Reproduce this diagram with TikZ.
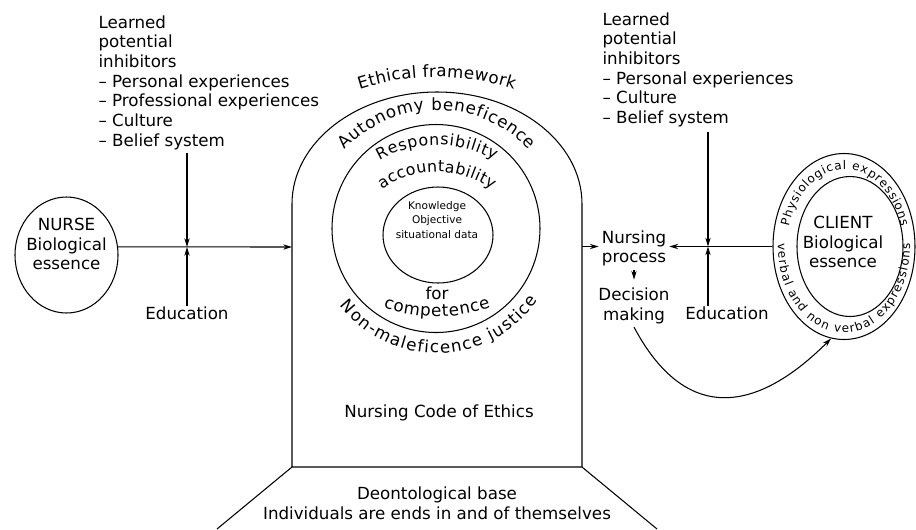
\documentclass[tikz,border=0pt]{standalone}
\usepackage{fontspec}
\setmainfont{DejaVu Sans}
\usetikzlibrary{shapes.geometric,decorations.text,arrows.meta}
\newcommand\lblfont{\fontsize{9.5}{11.2}\selectfont}
\newcommand\respfont{\fontsize{9}{11}\selectfont}
\newcommand\ovalfont{\fontsize{6.8}{8}\selectfont}
\newcommand\corefont{\fontsize{6}{8.5}\selectfont}

\begin{document}
\begin{tikzpicture}[line width=0.6pt, >={Stealth[length=5pt,width=3pt]},
  txt/.style={font=\lblfont, inner sep=0pt},
  lst/.style={txt, align=left, anchor=north west},
  oval/.style={draw, ellipse, inner sep=0pt},
  curved/.style={decorate, decoration={text along path, text align={fit to path}, text={#1}}}]
  \useasboundingbox (0,0) rectangle (18.32,-10.58);

  \node[oval, minimum width=2.06cm, minimum height=2.32cm] (nurse) at (1.33,-5.10) {};
  \node[txt, align=center] (nursetxt) at (1.33,-4.88) {NURSE\\Biological\\essence};
  \node[lst] (inhibL) at (1.96,-0.30) {Learned\\potential\\inhibitors\\-- Personal experiences\\-- Professional experiences\\-- Culture\\-- Belief system};
  \node[txt, anchor=north] (eduL) at (3.74,-6.12) {Education};
  \coordinate (topL) at (3.74,-3.06);
  \coordinate (crossL) at (3.74,-4.94);
  \coordinate (archW) at (5.84,-4.94);
  \draw[->] (nurse.9) -- (archW);
  \draw[->] (topL) -- (crossL);
  \draw[->] (eduL.north) -- (crossL);

  \draw (5.84,-9.34) coordinate (baseL) -- (5.84,-4.08) arc[start angle=180, end angle=0, x radius=2.9, y radius=2.24] -- (11.64,-9.34) coordinate (baseR) -- cycle;
  \draw (baseL) -- (4.34,-10.58);
  \draw (baseR) -- (13.14,-10.58);
  \node[draw, circle, inner sep=0pt, minimum size=4.16cm] (mid) at (8.72,-4.57) {};
  \node[oval, minimum width=2.2cm, minimum height=1.92cm] (core) at (8.76,-4.70) {};
  \node[txt, align=center, font=\corefont] (coretxt) at (8.74,-4.40) {Knowledge\\Objective\\situational data};
  \path[curved={|\lblfont|Ethical framework}] (8.74,-6.54) ++(108:5) arc[start angle=108, end angle=72, radius=5];
  \path[curved={|\lblfont|Autonomy beneficence}] (8.74,-4.72) ++(137:2.52) arc[start angle=137, end angle=43, radius=2.52];
  \path[curved={|\respfont|Responsibility}] (8.74,-5.2) ++(120:2.3) arc[start angle=120, end angle=60, radius=2.3];
  \path[curved={|\respfont|accountability}] (8.74,-5.36) ++(125:1.92) arc[start angle=125, end angle=55, radius=1.92];
  \node[txt] (for) at (8.74,-5.87) {for};
  \path[curved={|\lblfont|competence}] (8.74,-3.03) ++(251:3.3) arc[start angle=251, end angle=289, radius=3.3];
  \path[curved={|\lblfont|Non-maleficence justice}] (8.74,-4.6) ++(218:2.46) arc[start angle=218, end angle=325, radius=2.46];
  \node[txt] (code) at (8.78,-8.26) {Nursing Code of Ethics};
  \node[txt, align=center] (deon) at (8.74,-10.07) {Deontological base\\Individuals are ends in and of themselves};

  \node[lst] (inhibR) at (12.04,-0.24) {Learned\\potential\\inhibitors\\-- Personal experiences\\-- Culture\\-- Belief system};
  \node[txt, align=center, inner sep=1.5pt] (nproc) at (12.68,-4.97) {Nursing\\process};
  \node[txt, align=center, inner sep=1.5pt] (decide) at (12.68,-6.12) {Decision\\making};
  \node[txt, anchor=north] (eduR) at (14.54,-6.12) {Education};
  \coordinate (topR) at (14.16,-2.64);
  \coordinate (crossR) at (14.16,-4.93);
  \coordinate (archE) at (11.64,-4.93);
  \node[oval, minimum width=2.84cm, minimum height=3.72cm] (client) at (16.88,-4.93) {};
  \node[oval, minimum width=2.12cm, minimum height=2.8cm] (clientin) at (17.0,-4.93) {};
  \node[txt, align=center] (clienttxt) at (16.86,-4.84) {CLIENT\\Biological\\essence};
  \path[curved={|\ovalfont|Physiological expressions}] (16.9,-4.93) ++(165:1.16 and 1.54) arc[start angle=165, end angle=15, x radius=1.16, y radius=1.54];
  \path[curved={|\ovalfont|verbal and non verbal expressions}] (16.88,-4.93) ++(178:1.32 and 1.72) arc[start angle=178, end angle=362, x radius=1.32, y radius=1.72];

  \draw[->] (archE) -- (archE -| nproc.west);
  \draw[->] (client.west) -- (client.west -| nproc.east);
  \draw[->] (topR) -- (crossR);
  \draw[->] (eduR.north -| crossR) -- (crossR);
  \draw[->, shorten >=3pt] (nproc.south) -- (decide.north);
  \draw[->] (decide.south) to[out=-62, in=-135, looseness=1.4] (client.262);
\end{tikzpicture}
\end{document}
